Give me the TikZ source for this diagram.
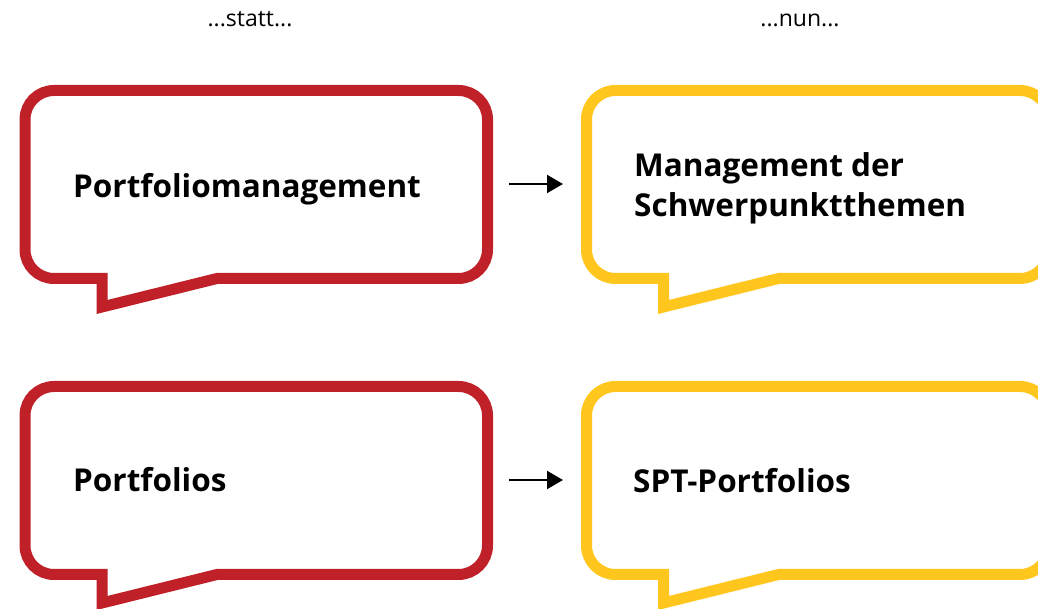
\documentclass[tikz,border=0pt]{standalone}
\usepackage{fontspec}
\setmainfont{Open Sans}
\definecolor{bred}{RGB}{192,32,40}
\definecolor{byel}{RGB}{255,198,30}
\usetikzlibrary{arrows.meta}
\tikzset{
  bub/.style={line width=11pt, line join=miter, fill=white},
  lbl/.style={font=\fontsize{31.5}{40}\selectfont\bfseries, anchor=base west, inner sep=0pt, align=left},
  top/.style={font=\fontsize{23}{26}\selectfont, anchor=base, inner sep=0pt},
  arr/.style={line width=2pt, -{Triangle[length=16pt,width=18pt]}},
}
\newcommand{\bubblepath}{(192,0) -- (433.5,0) arc[start angle=-90,end angle=0,radius=29] -- (462.5,159) arc[start angle=0,end angle=90,radius=29] -- (29,188) arc[start angle=90,end angle=180,radius=29] -- (0,29) arc[start angle=180,end angle=270,radius=29] -- (77,0) -- (77,-28.5) -- cycle}
\begin{document}
\begin{tikzpicture}[x=1pt,y=1pt]
\useasboundingbox (0,0) rectangle (1038,609);
\begin{scope}
\clip (0,0) rectangle (1038,609);
\draw[bub,draw=bred,shift={(25,330.5)}] \bubblepath;
\draw[bub,draw=bred,shift={(25,34.5)}] \bubblepath;
\draw[bub,draw=byel,shift={(586.5,330.5)}] \bubblepath;
\draw[bub,draw=byel,shift={(586.5,34.5)}] \bubblepath;
\end{scope}
\node[top] (statt) at (250,582) {...statt...};
\node[top] (nun) at (800,582) {...nun...};
\node[lbl] (pm) at (73,411) {Portfoliomanagement};
\node[lbl] (p) at (73,117) {Portfolios};
\node[lbl,anchor=west] (ms) at (634,421) {Management der\\Schwerpunktthemen};
\node[lbl] (spt) at (633,116) {SPT-Portfolios};
\coordinate (a1s) at (509,425);
\coordinate (a1e) at (563,425);
\coordinate (a2s) at (509,129);
\coordinate (a2e) at (563,129);
\draw[arr] (a1s) -- (a1e);
\draw[arr] (a2s) -- (a2e);
\end{tikzpicture}
\end{document}
